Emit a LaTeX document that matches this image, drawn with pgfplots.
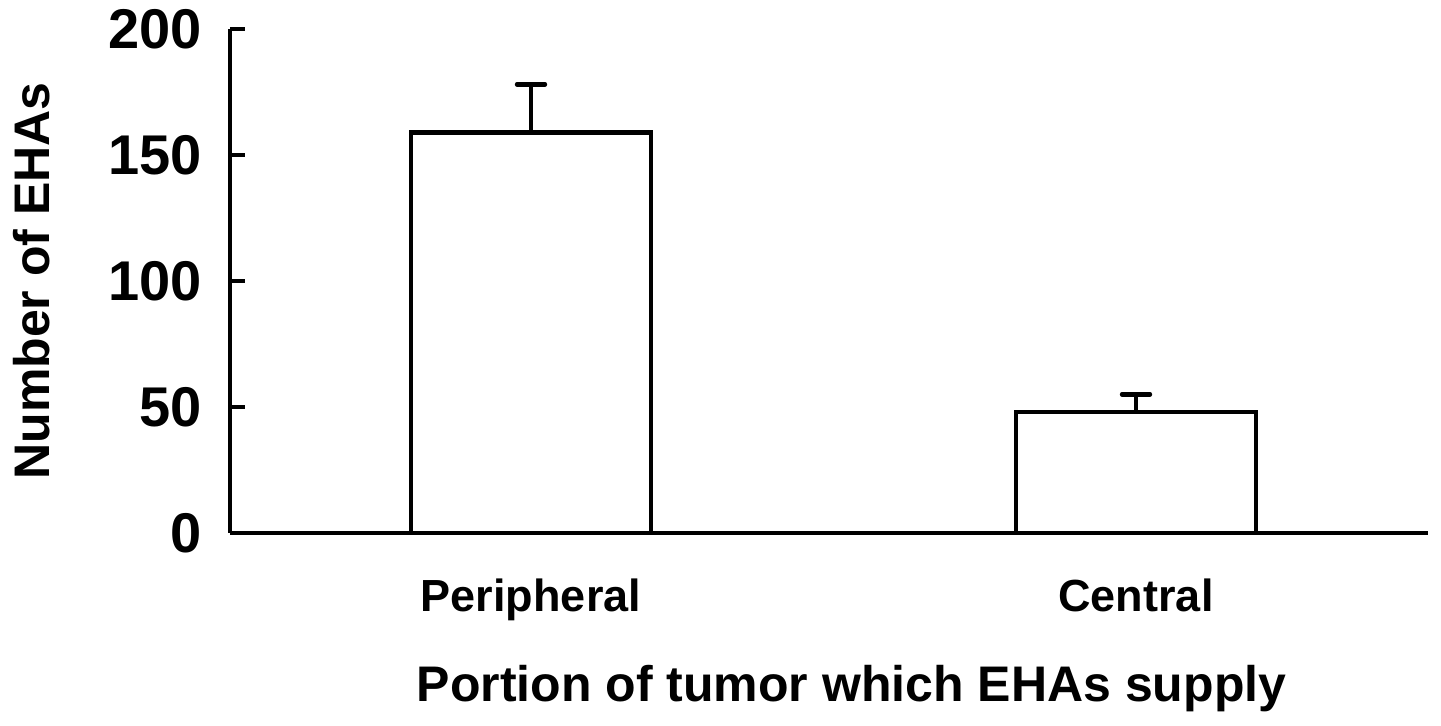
\documentclass[border=0pt]{standalone}
\usepackage{pgfplots}
\pgfplotsset{compat=1.18}
\usepackage{fontspec}
\setmainfont{Liberation Sans}
\begin{document}
\begin{tikzpicture}[x=1pt,y=1pt]
\useasboundingbox (-115,-96.5) rectangle (605.5,266.5);
\begin{axis}[
  at={(0,0)}, anchor=south west,
  scale only axis, width=599pt, height=252pt,
  xmin=0, xmax=11.98, ymin=0, ymax=200,
  clip=false,
  axis x line=bottom, axis y line=left,
  axis line style={-, line width=2.2pt, black},
  ytick={0,50,100,150,200},
  yticklabels={0,50,100,150,200},
  xtick={3.01,9.06},
  xticklabels={Peripheral,Central},
  x tick style={draw=none},
  y tick style={line width=2.2pt, black},
  tick align=inside, major tick length=7.5pt,
  yticklabel style={font=\fontsize{28}{28}\selectfont\bfseries, inner sep=0pt, anchor=east, xshift=-14pt},
  xticklabel style={font=\fontsize{22.5}{22.5}\selectfont\bfseries, inner sep=0pt, anchor=base, yshift=-39.5pt},
  every axis x label/.style={at={(axis description cs:0.5188,-0.3353)}, anchor=base, inner sep=0pt, font=\fontsize{25}{25}\selectfont\bfseries},
  every axis y label/.style={at={(axis description cs:-0.1653,0.5)}, anchor=center, rotate=90, inner sep=0pt, font=\fontsize{25}{25}\selectfont\bfseries},
  xlabel={Portion of tumor which EHAs supply},
  ylabel={Number of EHAs},
]
% mean number of EHAs per portion, with upper error bar
\addplot[ybar, bar width=2.4, fill=white, draw=black, line width=2.2pt,
  error bars/.cd, y dir=plus, y explicit,
  error bar style={line width=2.2pt, black},
  error mark options={rotate=90, mark size=7pt, line width=2.2pt, line cap=round, black}]
  coordinates {(3.01,159) +- (0,19) (9.06,48) +- (0,7)};
\end{axis}
\end{tikzpicture}
\end{document}
